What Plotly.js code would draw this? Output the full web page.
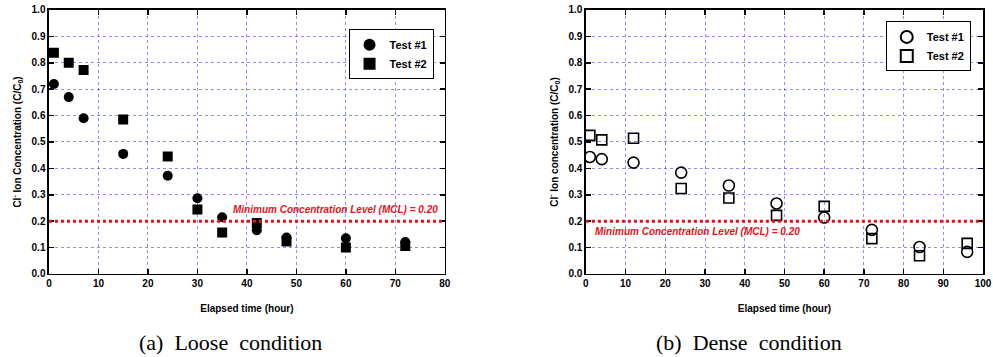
<!DOCTYPE html>
<html>
<head>
<meta charset="utf-8">
<script src="https://cdn.plot.ly/plotly-3.0.1.min.js"></script>
<style>html,body{margin:0;padding:0;background:#fff;}#chart{width:993px;height:357px;}</style>
</head>
<body>
<div id="chart"></div>
<script>
// Loose condition (a)
const looseTime1 = [1, 4, 7, 15, 24, 30, 35, 42, 48, 60, 72];
const looseTest1 = [0.72, 0.67, 0.59, 0.455, 0.372, 0.287, 0.215, 0.166, 0.138, 0.135, 0.121];
const looseTime2 = [1, 4, 7, 15, 24, 30, 35, 42, 48, 60, 72];
const looseTest2 = [0.838, 0.80, 0.773, 0.585, 0.445, 0.244, 0.157, 0.193, 0.123, 0.100, 0.106];
// Dense condition (b)
const denseTime1 = [1, 4, 12, 24, 36, 48, 60, 72, 84, 96];
const denseTest1 = [0.443, 0.435, 0.422, 0.384, 0.335, 0.267, 0.214, 0.167, 0.102, 0.084];
const denseTime2 = [1, 4, 12, 24, 36, 48, 60, 72, 84, 96];
const denseTest2 = [0.525, 0.508, 0.514, 0.324, 0.288, 0.222, 0.256, 0.134, 0.069, 0.116];
const seriesNames = ["Test #1", "Test #2"];
const mcl = 0.20;
const mclLabel = "Minimum Concentration Level (MCL) = 0.20";
const captions = ["(a)&nbsp;&nbsp;Loose&nbsp;&nbsp;condition", "(b)&nbsp;&nbsp;Dense&nbsp;&nbsp;condition"];
const xTitle = "Elapsed time (hour)";
const yTitleA = "Cl<sup>-</sup> Ion Concentration (C/C<sub>0</sub>)";
const yTitleB = "Cl<sup>-</sup> Ion concentration (C/C<sub>0</sub>)";

const F = "Liberation Sans, Arial, sans-serif";
const tickFont = {family: F, size: 10, color: "#000", weight: "bold"};
const titleFont = {family: F, size: 10, color: "#000", weight: "bold"};

function xax(domain, range, anchor) {
  return {
    domain: domain, range: range, anchor: anchor, dtick: 10, tick0: 0,
    showline: true, linecolor: "#000", linewidth: 1.5, mirror: "ticks",
    ticks: "inside", ticklen: 5, tickwidth: 1.5, tickcolor: "#000",
    showgrid: true, gridcolor: "rgba(90,90,255,0.7)", griddash: "dot", gridwidth: 1,
    zeroline: false, tickfont: tickFont,
    title: {text: "<b>" + xTitle + "</b>", font: titleFont, standoff: 16}
  };
}
function yax(domain, anchor, title) {
  return {
    domain: domain, range: [0, 1], anchor: anchor, dtick: 0.1, tick0: 0, tickformat: ".1f",
    showline: true, linecolor: "#000", linewidth: 1.5, mirror: "ticks",
    ticks: "inside", ticklen: 5, tickwidth: 1.5, tickcolor: "#000",
    showgrid: true, gridcolor: "rgba(90,90,255,0.7)", griddash: "dot", gridwidth: 1,
    zeroline: false, tickfont: tickFont,
    title: {text: "<b>" + title + "</b>", font: titleFont, standoff: 8}
  };
}

const traces = [
  {x: looseTime1, y: looseTest1, name: seriesNames[0], mode: "markers", type: "scatter",
   xaxis: "x", yaxis: "y", legend: "legend",
   marker: {symbol: "circle", size: 10, color: "#000"}},
  {x: looseTime2, y: looseTest2, name: seriesNames[1], mode: "markers", type: "scatter",
   xaxis: "x", yaxis: "y", legend: "legend",
   marker: {symbol: "square", size: 10, color: "#000"}},
  {x: denseTime1, y: denseTest1, name: seriesNames[0], mode: "markers", type: "scatter",
   xaxis: "x2", yaxis: "y2", legend: "legend2",
   marker: {symbol: "circle-open", size: 11, color: "#000", line: {width: 1.6, color: "#000"}}},
  {x: denseTime2, y: denseTest2, name: seriesNames[1], mode: "markers", type: "scatter",
   xaxis: "x2", yaxis: "y2", legend: "legend2",
   marker: {symbol: "square-open", size: 10, color: "#000", line: {width: 1.6, color: "#000"}}}
];

const legendCommon = {
  bgcolor: "#fff", bordercolor: "#000", borderwidth: 1,
  font: {family: F, size: 11, color: "#000", weight: "bold"},
  itemwidth: 30, tracegroupgap: 0, xanchor: "left", yanchor: "top",
  itemsizing: "constant"
};

const layout = {
  width: 993, height: 357,
  margin: {l: 0, r: 0, t: 0, b: 0},
  paper_bgcolor: "#fff", plot_bgcolor: "#fff",
  showlegend: true,
  xaxis: xax([0.0493, 0.448], [0, 80], "y"),
  yaxis: yax([0.2325, 0.972], "x", yTitleA),
  xaxis2: xax([0.590, 0.990], [0, 100], "y2"),
  yaxis2: yax([0.2325, 0.972], "x2", yTitleB),
  legend: Object.assign({}, legendCommon, {x: 0.351, y: 0.918}),
  legend2: Object.assign({}, legendCommon, {x: 0.892, y: 0.94}),
  shapes: [
    {type: "line", xref: "x domain", yref: "y", x0: 0, x1: 1, y0: mcl, y1: mcl,
     line: {color: "#e8101a", width: 3, dash: "dot"}},
    {type: "line", xref: "x2 domain", yref: "y2", x0: 0, x1: 1, y0: mcl, y1: mcl,
     line: {color: "#e8101a", width: 3, dash: "dot"}}
  ],
  annotations: [
    {xref: "x", yref: "y", x: 79, y: mcl + 0.045, xanchor: "right", yanchor: "middle",
     text: "<b><i>" + mclLabel + "</i></b>", showarrow: false,
     font: {family: F, size: 10, color: "#e8101a"}},
    {xref: "x2", yref: "y2", x: 1.8, y: mcl - 0.04, xanchor: "left", yanchor: "middle",
     text: "<b><i>" + mclLabel + "</i></b>", showarrow: false,
     font: {family: F, size: 10, color: "#e8101a"}},
    {xref: "paper", yref: "paper", x: 0.2325, y: 0.04, xanchor: "center", yanchor: "middle",
     text: captions[0], showarrow: false,
     font: {family: "Liberation Serif, Times New Roman, serif", size: 22, color: "#000"}},
    {xref: "paper", yref: "paper", x: 0.7545, y: 0.04, xanchor: "center", yanchor: "middle",
     text: captions[1], showarrow: false,
     font: {family: "Liberation Serif, Times New Roman, serif", size: 22, color: "#000"}}
  ]
};

Plotly.newPlot("chart", traces, layout, {staticPlot: true, displayModeBar: false});
</script>
</body>
</html>
